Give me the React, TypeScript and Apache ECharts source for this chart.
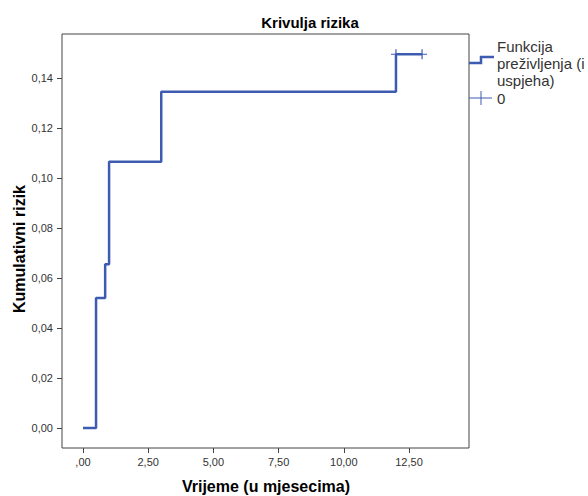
import React, { useEffect, useRef } from "react";
import * as echarts from "echarts";

const timeMonths = [0, 0.5, 0.85, 1.0, 3.0, 12.0, 13.0];
const cumRisk = [0, 0.052, 0.0655, 0.1065, 0.1345, 0.1495, 0.1495];
const censorTimes = [12.0, 13.0];
const censorRisk = [0.1495, 0.1495];
const xTicks = [0, 2.5, 5, 7.5, 10, 12.5];
const yTicks = [0, 0.02, 0.04, 0.06, 0.08, 0.1, 0.12, 0.14];
const titleText = "Krivulja rizika";
const xName = "Vrijeme (u mjesecima)";
const yName = "Kumulativni rizik";
const legendLines = ["Funkcija", "preživljenja (i", "uspjeha)"];
const legendCensor = "0";

const BLUE = "#3e5bb2";
const FONT = "'Liberation Sans', Arial, sans-serif";

const fmt = (v: number) => v.toFixed(2).replace(".", ",");

export default function App() {
  const ref = useRef<HTMLDivElement>(null);
  useEffect(() => {
    if (!ref.current) return;
    const chart = echarts.init(ref.current, undefined, { renderer: "svg" });
    const plus = "path://M4.4,0h1.2v10h-1.2zM0,4.4h10v1.2h-10z";
    chart.setOption({
      animation: false,
      backgroundColor: "#ffffff",
      textStyle: { fontFamily: FONT },
      grid: {
        left: 62,
        top: 34,
        right: 119,
        bottom: 48,
        show: true,
        borderColor: "#444444",
        borderWidth: 1,
        backgroundColor: "transparent",
      },
      xAxis: {
        type: "value",
        min: -0.805,
        max: 14.8,
        splitLine: { show: false },
        axisLine: { show: false, onZero: false },
        axisTick: {
          show: true,
          inside: false,
          length: 5,
          customValues: xTicks,
          lineStyle: { color: "#444444" },
        },
        axisLabel: {
          customValues: xTicks,
          margin: 8,
          fontSize: 11,
          color: "#333333",
          fontFamily: FONT,
          formatter: (v: number) => (v === 0 ? ",00" : fmt(v)),
        },
      },
      yAxis: {
        type: "value",
        min: -0.008,
        max: 0.1576,
        splitLine: { show: false },
        axisLine: { show: false, onZero: false },
        axisTick: {
          show: true,
          inside: false,
          length: 5,
          customValues: yTicks,
          lineStyle: { color: "#444444" },
        },
        axisLabel: {
          customValues: yTicks,
          margin: 9,
          fontSize: 11,
          color: "#333333",
          fontFamily: FONT,
          formatter: (v: number) => fmt(v),
        },
      },
      series: [
        {
          type: "line",
          step: "end",
          data: timeMonths.map((t, i) => [t, cumRisk[i]]),
          showSymbol: false,
          lineStyle: { color: BLUE, width: 2.5 },
          itemStyle: { color: BLUE },
        },
        {
          type: "scatter",
          data: censorTimes.map((t, i) => [t, censorRisk[i]]),
          symbol: plus,
          symbolSize: 10,
          itemStyle: { color: BLUE, opacity: 1 },
        },
      ],
      graphic: [
        {
          type: "text",
          x: 310,
          y: 22,
          style: {
            text: titleText,
            fontFamily: FONT,
            fontSize: 15,
            fontWeight: "bold",
            fill: "#000000",
            textAlign: "center",
            textVerticalAlign: "middle",
          },
        },
        {
          type: "text",
          x: 266,
          y: 486,
          style: {
            text: xName,
            fontFamily: FONT,
            fontSize: 16,
            fontWeight: "bold",
            fill: "#000000",
            textAlign: "center",
            textVerticalAlign: "middle",
          },
        },
        {
          type: "text",
          x: 19,
          y: 249,
          rotation: Math.PI / 2,
          style: {
            text: yName,
            fontFamily: FONT,
            fontSize: 16,
            fontWeight: "bold",
            fill: "#000000",
            textAlign: "center",
            textVerticalAlign: "middle",
          },
        },
        {
          type: "polyline",
          shape: { points: [[469, 63], [481, 63], [481, 57], [494, 57]] },
          style: { stroke: BLUE, lineWidth: 2.5, fill: "none" },
        },
        {
          type: "line",
          shape: { x1: 469, y1: 98, x2: 492, y2: 98 },
          style: { stroke: BLUE, lineWidth: 1 },
        },
        {
          type: "line",
          shape: { x1: 481, y1: 91, x2: 481, y2: 105 },
          style: { stroke: BLUE, lineWidth: 1 },
        },
        ...legendLines.map((t, i) => ({
          type: "text",
          x: 497,
          y: 46 + i * 17,
          style: {
            text: t,
            fontFamily: FONT,
            fontSize: 15,
            fill: "#333333",
            textAlign: "left",
            textVerticalAlign: "middle",
          },
        })),
        {
          type: "text",
          x: 497,
          y: 98,
          style: {
            text: legendCensor,
            fontFamily: FONT,
            fontSize: 15,
            fill: "#333333",
            textAlign: "left",
            textVerticalAlign: "middle",
          },
        },
      ],
    });
    return () => chart.dispose();
  }, []);
  return (
    <div
      ref={ref}
      style={{ position: "fixed", left: 0, top: 0, width: 588, height: 496 }}
    />
  );
}
